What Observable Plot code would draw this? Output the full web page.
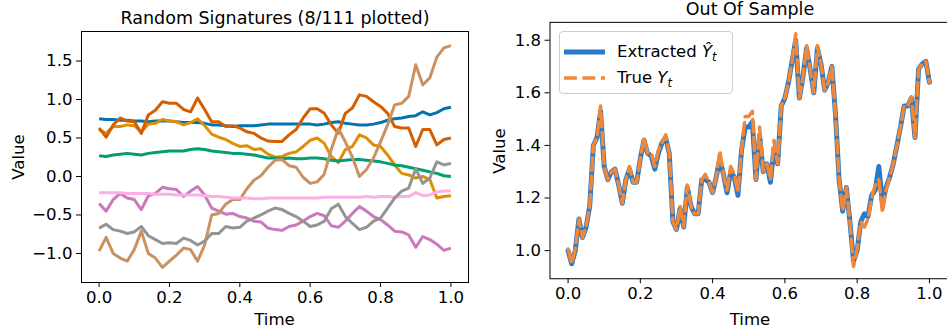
<!DOCTYPE html>
<html><head><meta charset="utf-8">
<script src="https://cdn.jsdelivr.net/npm/d3@7"></script>
<script src="https://cdn.jsdelivr.net/npm/@observablehq/plot@0.6"></script>
<style>
body{margin:0;background:#fff;font-family:"DejaVu Sans",sans-serif;}
#wrap{position:relative;width:947px;height:330px;overflow:hidden;background:#fff;}
.panel{position:absolute;top:0;}
.title{position:absolute;font-size:17.5px;line-height:17px;white-space:nowrap;transform:translateX(-50%);color:#000;}
.lab{position:absolute;font-size:16.6px;line-height:17px;white-space:nowrap;color:#000;}
.labx{transform:translateX(-50%);}
.laby{transform:translate(-50%,-50%) rotate(-90deg);}
#legend{position:absolute;left:559px;top:31px;width:172px;height:61px;border:1px solid #cccccc;border-radius:4px;background:rgba(255,255,255,0.8);}
.lg-item{position:absolute;left:0;font-size:16.5px;line-height:17px;white-space:nowrap;}
.lg-item svg{position:absolute;left:4px;}
.lg-item span{position:absolute;left:57px;}
.m{font-style:italic;}
sub{font-size:11.5px;vertical-align:-4px;line-height:0;}
svg.plot text{font-family:"DejaVu Sans",sans-serif;}
</style></head><body>
<div id="wrap">
  <div id="left" class="panel" style="left:0"></div>
  <div id="right" class="panel" style="left:470px"></div>
  <div class="title" style="left:275px;top:10px">Random Signatures (8/111 plotted)</div>
  <div class="title" style="left:750px;top:1px">Out Of Sample</div>
  <div class="lab labx" style="left:274.5px;top:311px">Time</div>
  <div class="lab labx" style="left:750px;top:311px">Time</div>
  <div class="lab laby" style="left:17.5px;top:156.5px">Value</div>
  <div class="lab laby" style="left:498.5px;top:151px">Value</div>
  <div id="legend">
    <div class="lg-item" style="top:11px">
      <svg width="42" height="17"><line x1="0" x2="41" y1="9" y2="9" stroke="#2a7ac7" stroke-width="5"/></svg>
      <span>Extracted <span class="m" style="position:static">Ŷ</span><sub class="m">t</sub></span>
    </div>
    <div class="lg-item" style="top:37px">
      <svg width="42" height="17"><line x1="0" x2="41" y1="9" y2="9" stroke="#f0883a" stroke-width="3.5" stroke-dasharray="12.9,5.6"/></svg>
      <span>True <span class="m" style="position:static">Y</span><sub class="m">t</sub></span>
    </div>
  </div>
</div>
<script>
// ---------- Left panel: random signatures ----------
const timeL = [0,0.02,0.04,0.06,0.08,0.1,0.12,0.14,0.16,0.18,0.2,0.22,0.24,0.26,0.28,0.3,0.32,0.34,0.36,0.38,0.4,0.42,0.44,0.46,0.48,0.5,0.52,0.54,0.56,0.58,0.6,0.62,0.64,0.66,0.68,0.7,0.72,0.74,0.76,0.78,0.8,0.82,0.84,0.86,0.88,0.9,0.92,0.94,0.96,0.98,1];
const sigNames = ["sig 1","sig 2","sig 3","sig 4","sig 5","sig 6","sig 7","sig 8"];
const sigColors = ["#0173b2","#de8f05","#029e73","#d55e00","#cc78bc","#ca9161","#fbafe4","#949494"];
const sig1 = [0.75,0.74,0.74,0.73,0.73,0.72,0.72,0.71,0.72,0.72,0.72,0.71,0.70,0.70,0.70,0.69,0.67,0.67,0.66,0.65,0.66,0.66,0.66,0.67,0.68,0.68,0.68,0.68,0.68,0.68,0.68,0.67,0.68,0.70,0.71,0.69,0.68,0.67,0.67,0.68,0.70,0.73,0.75,0.76,0.78,0.79,0.84,0.80,0.83,0.88,0.90];
const sig2 = [0.61,0.56,0.65,0.65,0.67,0.66,0.58,0.68,0.69,0.74,0.72,0.71,0.67,0.70,0.75,0.66,0.55,0.51,0.48,0.43,0.39,0.40,0.35,0.36,0.29,0.25,0.26,0.30,0.32,0.39,0.47,0.50,0.43,0.26,0.18,0.35,0.39,0.54,0.50,0.41,0.39,0.28,0.15,0.04,0.02,-0.02,0.00,-0.04,-0.28,-0.26,-0.25];
const sig3 = [0.27,0.26,0.28,0.29,0.30,0.29,0.28,0.30,0.31,0.32,0.33,0.33,0.33,0.35,0.36,0.35,0.33,0.32,0.31,0.30,0.30,0.29,0.28,0.26,0.24,0.24,0.23,0.24,0.23,0.23,0.24,0.24,0.23,0.21,0.20,0.21,0.22,0.22,0.21,0.20,0.19,0.17,0.15,0.14,0.12,0.10,0.08,0.06,0.04,0.01,0.00];
const sig4 = [0.63,0.51,0.67,0.76,0.72,0.71,0.56,0.80,0.86,0.97,0.95,0.95,0.87,0.84,1.02,0.87,0.71,0.71,0.65,0.66,0.63,0.58,0.56,0.50,0.46,0.455,0.455,0.54,0.61,0.76,0.88,0.88,0.82,0.67,0.56,0.82,0.89,1.06,1.04,0.97,0.91,0.82,0.65,0.63,0.63,0.39,0.61,0.61,0.41,0.48,0.50];
const sig5 = [-0.35,-0.45,-0.30,-0.22,-0.28,-0.30,-0.43,-0.25,-0.22,-0.14,-0.16,-0.17,-0.26,-0.19,-0.13,-0.24,-0.41,-0.45,-0.49,-0.48,-0.52,-0.54,-0.58,-0.59,-0.67,-0.69,-0.70,-0.65,-0.63,-0.58,-0.52,-0.48,-0.51,-0.64,-0.66,-0.58,-0.48,-0.39,-0.45,-0.52,-0.56,-0.63,-0.71,-0.72,-0.76,-0.92,-0.78,-0.82,-0.88,-0.96,-0.93];
const sig6 = [-0.97,-0.79,-1.00,-1.06,-1.10,-0.95,-0.71,-1.00,-1.06,-1.18,-1.10,-1.02,-0.93,-0.95,-1.10,-0.89,-0.50,-0.48,-0.36,-0.30,-0.30,-0.16,-0.05,0.01,0.12,0.21,0.22,0.14,0.12,-0.01,-0.09,-0.07,0.03,0.35,0.62,0.45,0.25,0.00,0.09,0.24,0.45,0.67,0.93,0.95,1.04,1.45,1.19,1.28,1.55,1.67,1.70];
const sig7 = [-0.21,-0.21,-0.21,-0.21,-0.22,-0.22,-0.22,-0.22,-0.23,-0.23,-0.23,-0.24,-0.24,-0.24,-0.24,-0.25,-0.26,-0.26,-0.27,-0.28,-0.28,-0.28,-0.29,-0.29,-0.28,-0.28,-0.28,-0.28,-0.28,-0.28,-0.28,-0.28,-0.27,-0.27,-0.27,-0.27,-0.27,-0.27,-0.26,-0.27,-0.26,-0.26,-0.27,-0.26,-0.26,-0.21,-0.25,-0.24,-0.20,-0.19,-0.19];
const sig8 = [-0.67,-0.62,-0.69,-0.71,-0.74,-0.72,-0.65,-0.77,-0.82,-0.87,-0.86,-0.87,-0.80,-0.83,-0.89,-0.84,-0.74,-0.74,-0.65,-0.67,-0.66,-0.58,-0.54,-0.50,-0.45,-0.41,-0.43,-0.48,-0.52,-0.58,-0.65,-0.63,-0.58,-0.42,-0.36,-0.52,-0.61,-0.69,-0.66,-0.58,-0.54,-0.41,-0.28,-0.19,-0.15,0.10,-0.09,-0.02,0.19,0.15,0.17];
const sigValues = [sig1, sig2, sig3, sig4, sig5, sig6, sig7, sig8];
const xTicks = [0, 0.2, 0.4, 0.6, 0.8, 1.0];
const yTicksLeft = [-1.0, -0.5, 0.0, 0.5, 1.0, 1.5];

// ---------- Right panel: out of sample ----------
const timeR = [0,0.01,0.02,0.03,0.04,0.05,0.06,0.07,0.08,0.09,0.1,0.11,0.12,0.13,0.14,0.15,0.16,0.17,0.18,0.19,0.2,0.21,0.22,0.23,0.24,0.25,0.26,0.27,0.28,0.29,0.3,0.31,0.32,0.33,0.34,0.35,0.36,0.37,0.38,0.39,0.4,0.41,0.42,0.43,0.44,0.45,0.46,0.47,0.48,0.49,0.5,0.51,0.52,0.53,0.54,0.55,0.56,0.57,0.58,0.59,0.6,0.61,0.62,0.63,0.64,0.65,0.66,0.67,0.68,0.69,0.7,0.71,0.72,0.73,0.74,0.75,0.76,0.77,0.78,0.79,0.8,0.81,0.82,0.83,0.84,0.85,0.86,0.87,0.88,0.89,0.9,0.91,0.92,0.93,0.94,0.95,0.96,0.97,0.98,0.99,1];
const extracted = [1.0,0.95,1.0,1.12,1.05,1.09,1.17,1.40,1.43,1.53,
 1.32,1.27,1.30,1.31,1.25,1.18,1.27,1.31,1.26,1.26,
 1.35,1.42,1.37,1.36,1.31,1.37,1.41,1.43,1.37,1.11,
 1.08,1.16,1.09,1.24,1.17,1.14,1.14,1.27,1.27,1.26,
 1.22,1.28,1.35,1.29,1.22,1.30,1.28,1.21,1.38,1.47,
 1.47,1.49,1.27,1.44,1.30,1.33,1.26,1.39,1.33,1.55,
 1.58,1.64,1.72,1.80,1.58,1.66,1.77,1.69,1.60,1.77,
 1.71,1.61,1.64,1.70,1.52,1.27,1.15,1.24,1.11,0.96,
 1.00,1.11,1.14,1.13,1.21,1.23,1.32,1.18,1.24,1.28,
 1.33,1.40,1.47,1.55,1.55,1.58,1.43,1.69,1.71,1.72,
 1.64];
const trueY = [1.006,0.95,1.006,1.12,1.05,1.094,1.17,1.40,1.43,1.55,
 1.32,1.27,1.30,1.31,1.25,1.18,1.27,1.32,1.26,1.26,
 1.35,1.43,1.37,1.37,1.32,1.38,1.41,1.44,1.37,1.11,
 1.08,1.17,1.09,1.25,1.17,1.14,1.14,1.27,1.29,1.26,
 1.22,1.28,1.38,1.29,1.23,1.32,1.29,1.22,1.38,1.51,
 1.51,1.53,1.27,1.47,1.30,1.33,1.27,1.42,1.33,1.55,
 1.58,1.64,1.72,1.825,1.58,1.66,1.78,1.69,1.60,1.78,
 1.71,1.61,1.64,1.70,1.52,1.27,1.15,1.24,1.11,0.94,
 1.006,1.11,1.09,1.12,1.20,1.25,1.27,1.145,1.23,1.28,
 1.33,1.40,1.47,1.55,1.55,1.585,1.43,1.69,1.71,1.72,
 1.64];
const yTicksRight = [1.0, 1.2, 1.4, 1.6, 1.8];

const fmt = d3.format(".1f");
const FS = 16.6;
const baseStyle = "font-family:'DejaVu Sans',sans-serif;font-size:16.6px;background:transparent;color:#000;overflow:visible;";
const axisOpts = {tickFormat: fmt, tickSize: 5, tickPadding: 4, fontSize: FS, label: null};

const leftRows = sigNames.flatMap((k, j) => timeL.map((t, i) => ({t, v: sigValues[j][i], k})));

const leftPlot = Plot.plot({
  width: 470, height: 330,
  marginLeft: 81, marginRight: 2, marginTop: 31, marginBottom: 48,
  x: {domain: [-0.05, 1.05]},
  y: {domain: [-1.377, 1.883]},
  color: {domain: sigNames, range: sigColors},
  style: baseStyle,
  marks: [
    Plot.line(leftRows, {x: "t", y: "v", z: "k", stroke: "k", strokeWidth: 3, strokeLinejoin: "round", strokeLinecap: "butt"}),
    Plot.frame({stroke: "#000", strokeWidth: 1}),
    Plot.axisX({...axisOpts, ticks: xTicks}),
    Plot.axisY({...axisOpts, ticks: yTicksLeft})
  ]
});
document.getElementById("left").appendChild(leftPlot);

const rightRows = [
  ...timeR.map((t, i) => ({t, v: extracted[i], k: "Extracted"})),
  ...timeR.map((t, i) => ({t, v: trueY[i], k: "True"}))
];

const rightPlot = Plot.plot({
  width: 480, height: 330,
  marginLeft: 80, marginRight: 0, marginTop: 22, marginBottom: 50,
  x: {domain: [-0.05, 1.05]},
  y: {domain: [0.893, 1.868]},
  style: baseStyle,
  marks: [
    Plot.line(rightRows, {filter: d => d.k === "Extracted", x: "t", y: "v", stroke: "#2a7ac7", strokeWidth: 5, strokeLinejoin: "round"}),
    Plot.line(rightRows, {filter: d => d.k === "True", x: "t", y: "v", stroke: "#f0883a", strokeWidth: 3.5, strokeDasharray: "12.9,5.6", strokeLinejoin: "round"}),
    Plot.frame({stroke: "#000", strokeWidth: 1}),
    Plot.axisX({...axisOpts, ticks: xTicks}),
    Plot.axisY({...axisOpts, ticks: yTicksRight})
  ]
});
document.getElementById("right").appendChild(rightPlot);
</script>
</body></html>
